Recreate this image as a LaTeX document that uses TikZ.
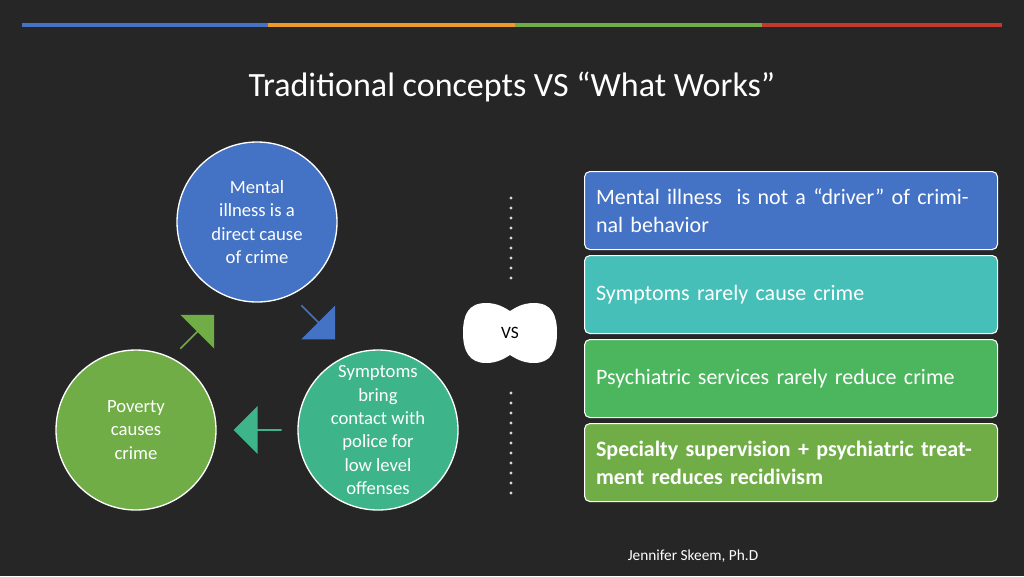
\documentclass[tikz,border=0pt]{standalone}
\usepackage{fontspec}
\setmainfont{Carlito}
\usetikzlibrary{shapes.arrows}
\definecolor{bg}{HTML}{262626}
\definecolor{cblue}{HTML}{4472C4}
\definecolor{cteal}{HTML}{45BFB8}
\definecolor{cgreen}{HTML}{4CB65E}
\definecolor{clime}{HTML}{70AD47}
\definecolor{cmint}{HTML}{3DB489}
\definecolor{corange}{HTML}{ED9A2A}
\definecolor{cred}{HTML}{C0392B}
\begin{document}
\begin{tikzpicture}[x=0.75pt,y=-0.75pt,
  circ/.style={circle,draw=white,line width=1pt,minimum size=160*0.75pt,inner sep=0pt,text=white,align=center,font=\fontsize{14}{17.5}\selectfont},
  rbox/.style={rectangle,rounded corners=4pt,draw=white,line width=0.8pt,minimum width=413*0.75pt,minimum height=78*0.75pt,text width=390*0.75pt,align=left,text=white,font=\fontsize{16.5}{21}\selectfont,anchor=north west},
  barr/.style={single arrow,minimum height=48*0.75pt,minimum width=48*0.75pt,single arrow head extend=6pt,inner sep=0pt,draw=none},
  dots/.style={white!85!black,line width=2.5pt,dash pattern=on 0pt off 7.5pt,line cap=round}]
\fill[bg] (0,0) rectangle (1024,576);
\useasboundingbox (0,0) rectangle (1024,576);
\foreach \a/\b/\c in {22/268/cblue,268/515/corange,515/762/clime,762/1002/cred}
  \draw[\c,line width=2.5pt] (\a,25) -- (\b,25);
\node[text=white,font=\fontsize{25.5}{30}\selectfont] (title) at (512,87) {Traditional concepts VS “What Works”};
\node[circ,fill=cblue] (c1) at (257,222) {Mental\\illness is a\\direct cause\\of crime};
\node[circ,fill=cmint] (c2) at (378,430) {Symptoms\\bring\\contact with\\police for\\low level\\offenses};
\node[circ,fill=clime] (c3) at (136,430) {Poverty\\causes\\crime};
\node[barr,fill=cblue,rotate=-45] (a1) at (318,322) {};
\node[barr,fill=cmint,rotate=180] (a2) at (258,430) {};
\node[barr,fill=clime,rotate=45] (a3) at (197,332) {};
\fill[white] (486,303) .. controls (468,303) and (463,315) .. (463,333)
  .. controls (463,352) and (470,363) .. (486,363)
  .. controls (498,363) and (505,358) .. (510,355)
  .. controls (515,358) and (522,363) .. (534,363)
  .. controls (550,363) and (557,352) .. (557,333)
  .. controls (557,315) and (552,303) .. (534,303)
  .. controls (522,303) and (515,308) .. (510,311)
  .. controls (505,308) and (498,303) .. (486,303) -- cycle;
\node[font=\fontsize{13}{15}\selectfont,text=black] (vs) at (510,333) {VS};
\coordinate (d1) at (511,198); \coordinate (d2) at (511,282);
\coordinate (d3) at (511,393); \coordinate (d4) at (511,502);
\draw[dots] (d1) -- (d2);
\draw[dots] (d3) -- (d4);
\node[rbox,fill=cblue] (b1) at (584,171) {Mental illness\ \ is not a “driver” of criminal behavior};
\node[rbox,fill=cteal] (b2) at (584,255) {Symptoms rarely cause crime};
\node[rbox,fill=cgreen] (b3) at (584,339) {Psychiatric services rarely reduce crime};
\node[rbox,fill=clime,font=\fontsize{16.5}{21}\selectfont\bfseries] (b4) at (584,423) {Specialty supervision + psychiatric treatment reduces recidivism};
\node[text=white,font=\fontsize{11.5}{14}\selectfont] (ft) at (693,556) {Jennifer Skeem, Ph.D};
\end{tikzpicture}
\end{document}
